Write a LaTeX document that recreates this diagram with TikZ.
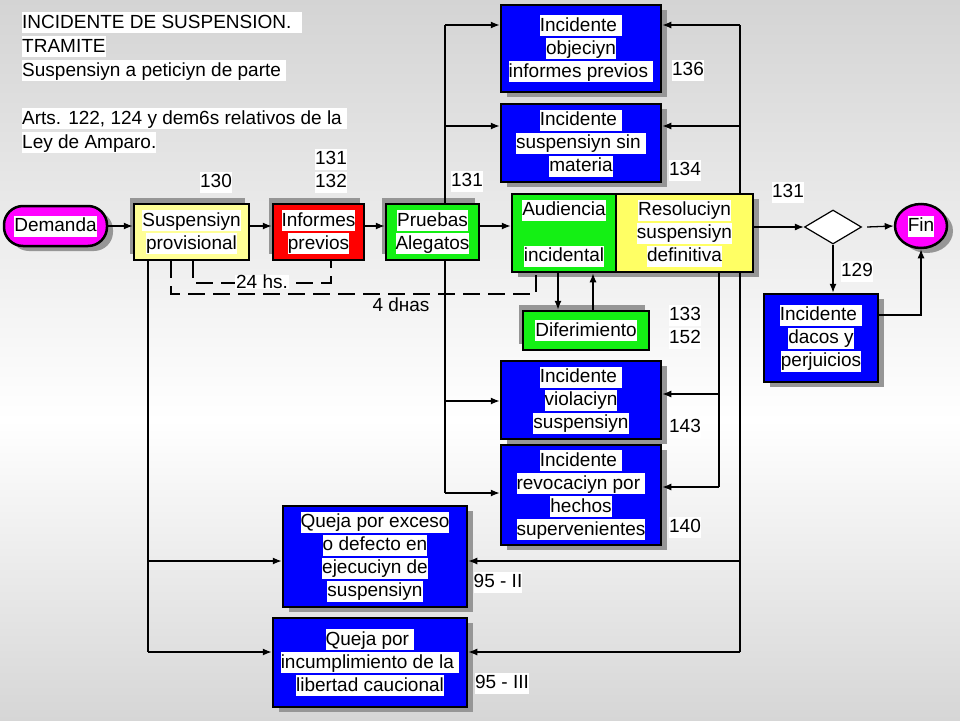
\documentclass[tikz,border=0pt]{standalone}
\usepackage{fontspec}
\setmainfont{Liberation Sans}
\usetikzlibrary{shapes.geometric,shadows,arrows.meta}
\definecolor{cblue}{RGB}{0,0,255}
\definecolor{cred}{RGB}{255,0,0}
\definecolor{cgreen}{RGB}{20,240,20}
\definecolor{cyel1}{RGB}{255,255,150}
\definecolor{cyel2}{RGB}{255,255,100}
\definecolor{cmag}{RGB}{255,0,255}
\definecolor{shd}{RGB}{150,150,150}
\definecolor{bgtop}{RGB}{212,212,212}
\definecolor{bgbot}{RGB}{214,214,214}
\newcommand\fs{\fontsize{19}{23}\selectfont}
\newcommand\hl[1]{{\setlength{\fboxsep}{0pt}\colorbox{white}{\rule[-5pt]{0pt}{21pt}#1}}}
\begin{document}
\begin{tikzpicture}[x=1pt,y=-1pt,
  box/.style={draw=black, line width=2.5pt, inner sep=0pt, align=center, font=\fs},
  shbr/.style={drop shadow={shadow xshift=6pt, shadow yshift=-5pt, fill=shd, opacity=1}},
  shtl/.style={drop shadow={shadow xshift=-4pt, shadow yshift=6pt, fill=shd, opacity=1}},
  bluebox/.style={box, fill=cblue, shbr},
  redbox/.style={box, fill=cred, shtl},
  greenbox/.style={box, fill=cgreen, shtl},
  greenboxb/.style={box, fill=cgreen, shbr},
  yelbox/.style={box, fill=cyel1, shtl},
  yelboxb/.style={box, fill=cyel2, shbr},
  pill/.style={box, fill=cmag, rounded corners=19pt, shbr},
  finnode/.style={box, ellipse, fill=cmag, shbr},
  decision/.style={diamond, draw=black, line width=1.2pt, fill=white, inner sep=0pt},
  ln/.style={line width=1.3pt, draw=black},
  arr/.style={ln, -{Latex[length=9pt,width=7pt]}},
  dsh/.style={ln, dash pattern=on 17pt off 8pt},
  lbl/.style={inner sep=0pt, font=\fs, align=center}
]
\useasboundingbox (0,0) rectangle (960,720);
\fill[top color=bgtop, bottom color=white] (0,0) rectangle (960,420);
\fill[top color=white, bottom color=bgbot] (0,420) rectangle (960,720);

% title
\node[inner sep=0pt, anchor=north west, align=left, font=\fontsize{19}{24}\selectfont] (title) at (22,12)
 {\hl{INCIDENTE DE SUSPENSION.\ \ }\\\hl{TRAMITE}\\\hl{Suspensiyn a peticiyn de parte\ }\\[24pt]\hl{Arts. 122, 124 y dem6s relativos de la\ }\\\hl{Ley de Amparo.}};

% main row
\node[pill, minimum width=103pt, minimum height=40pt] (dem) at (55.5,226) {\hl{Demanda}};
\node[yelbox, minimum width=115pt, minimum height=56pt] (sp) at (191.5,232) {\hl{Suspensiyn}\\\hl{provisional}};
\node[redbox, minimum width=91pt, minimum height=56pt] (ip) at (318.5,232) {\hl{Informes}\\\hl{previos}};
\node[greenbox, minimum width=93pt, minimum height=56pt] (pa) at (432.5,232) {\hl{Pruebas}\\\hl{Alegatos}};
\node[greenboxb, minimum width=104pt, minimum height=78pt] (au) at (564,233) {\hl{Audiencia}\\[23pt]\hl{incidental}};
\node[yelboxb, minimum width=137pt, minimum height=78pt] (rs) at (684.5,233) {\hl{Resoluciyn}\\\hl{suspensiyn}\\\hl{definitiva}};
\node[greenbox, minimum width=126pt, minimum height=39pt] (df) at (586,330.5) {\hl{Diferimiento}};
\node[decision, minimum width=57pt, minimum height=34pt] (dia) at (833,227) {};
\node[finnode, minimum width=52pt, minimum height=44pt] (fin) at (921,226) {\hl{Fin}};

% blue boxes
\node[bluebox, minimum width=160pt, minimum height=87pt] (b1) at (581,48.5) {\hl{Incidente\ }\\\hl{objeciyn}\\\hl{informes previos\ }};
\node[bluebox, minimum width=160pt, minimum height=78pt] (b2) at (581,143) {\hl{Incidente\ }\\\hl{suspensiyn sin\ }\\\hl{materia}};
\node[bluebox, minimum width=160pt, minimum height=78pt] (b3) at (581,400) {\hl{Incidente\ }\\\hl{violaciyn}\\\hl{suspensiyn}};
\node[bluebox, minimum width=160pt, minimum height=100pt] (b4) at (581,495) {\hl{Incidente\ }\\\hl{revocaciyn por\ }\\\hl{hechos}\\\hl{supervenientes}};
\node[bluebox, minimum width=184pt, minimum height=101pt] (q1) at (375,556.5) {\hl{Queja por exceso}\\\hl{o defecto en}\\\hl{ejecuciyn de}\\\hl{suspensiyn}};
\node[bluebox, minimum width=194pt, minimum height=89pt] (q2) at (370,662.5) {\hl{Queja por\ }\\\hl{incumplimiento de la\ }\\\hl{libertad caucional}};
\node[bluebox, minimum width=114pt, minimum height=88pt] (dd) at (821,338) {\hl{Incidente\ }\\\hl{dacos y}\\\hl{perjuicios}};

% number labels
\node[lbl] (n130) at (216,182) {\hl{130}};
\node[lbl] (n131a) at (331,170.5) {\hl{131}\\\hl{132}};
\node[lbl] (n131b) at (467,181) {\hl{131}};
\node[lbl] (n136) at (688,70) {\hl{136}};
\node[lbl] (n134) at (685,170) {\hl{134}};
\node[lbl] (n131c) at (788,192) {\hl{131}};
\node[lbl] (n129) at (857,271) {\hl{129}};
\node[lbl] (n133) at (685,326.5) {\hl{133}\\\hl{152}};
\node[lbl] (n143) at (685,427) {\hl{143}};
\node[lbl] (n140) at (685,527) {\hl{140}};
\node[lbl] (n95a) at (498,582) {\hl{95 - II}};
\node[lbl] (n95b) at (502,683) {\hl{95 - III}};

% main flow
\draw[arr] (dem.east) -- (dem.east -| sp.west);
\draw[arr] (sp.east |- dem.east) -- (ip.west |- dem.east);
\draw[arr] (ip.east |- dem.east) -- (pa.west |- dem.east);
\draw[arr] (pa.east |- dem.east) -- (au.west |- dem.east);
\draw[arr] (rs.east |- dia.west) -- (dia.west);
\draw[arr] ([xshift=5pt]dia.east) -- (fin.west);
\draw[arr] (dia.south) -- (dd.north -| dia.south);
\draw[arr] (dd.east |- 0,315) -| (fin.south);

% left trunk from Pruebas
\draw[ln] (pa.north -| 445,0) -- (445,25);
\draw[arr] (445,25) -- (b1.west |- 0,25);
\draw[arr] (445,126) -- (b2.west |- 0,126);
\draw[ln] (pa.south -| 445,0) -- (445,493);
\draw[arr] (445,401) -- (b3.west |- 0,401);
\draw[arr] (445,493) -- (b4.west |- 0,493);

% right trunk
\draw[ln] (rs.north -| 740,0) -- (740,25);
\draw[arr] (740,25) -- (b1.east |- 0,25);
\draw[arr] (740,126) -- (b2.east |- 0,126);
\draw[ln] (rs.south -| 740,0) -- (740,652);
\draw[arr] (740,561) -- (q1.east |- 0,561);
\draw[arr] (740,652) -- (q2.east |- 0,652);

% inner right trunk
\draw[ln] (rs.south -| 719,0) -- (719,487);
\draw[arr] (719,394) -- (b3.east |- 0,394);
\draw[arr] (719,487) -- (b4.east |- 0,487);

% left trunk from Suspension
\draw[ln] (sp.south -| 148,0) -- (148,652);
\draw[arr] (148,561) -- (q1.west |- 0,561);
\draw[arr] (148,652) -- (q2.west |- 0,652);

% Audiencia - Diferimiento
\draw[arr] (au.south -| 558,0) -- (df.north -| 558,0);
\draw[arr] (df.north -| 593,0) -- (au.south -| 593,0);

% dashed terms
\draw[dsh] (sp.south -| 193,0) -- (193,283) -- (331,283) -- (ip.south -| 331,0);
\node[lbl, fill=white, inner xsep=1pt] (h24) at (262,282) {24 hs.};
\draw[dsh] (sp.south -| 171,0) -- (171,294) -- (536,294) -- (au.south -| 536,0);
\node[lbl] (d4) at (401,305) {4 dнas};
\end{tikzpicture}
\end{document}
